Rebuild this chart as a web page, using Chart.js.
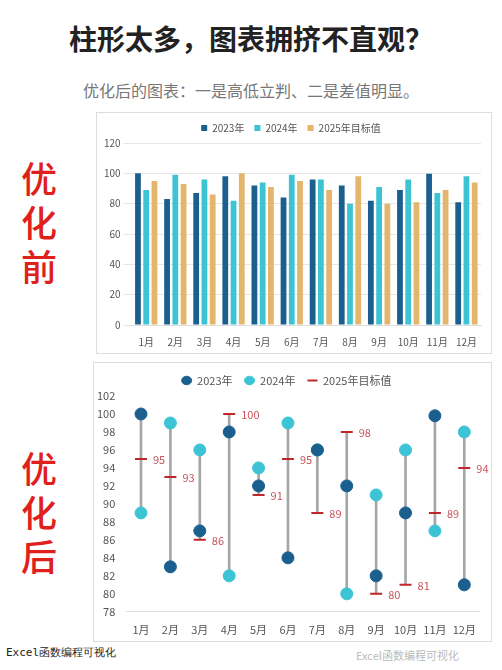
<!DOCTYPE html>
<html><head><meta charset="utf-8">
<script src="https://cdn.jsdelivr.net/npm/chart.js@4/dist/chart.umd.min.js"></script>
<style>
body{margin:0;width:502px;height:670px;background:#fff;font-family:"Noto Sans CJK SC",sans-serif;position:relative;overflow:hidden}
.t{position:absolute;left:0;width:502px;text-align:center}
.box{position:absolute;border:1px solid #ddd;background:#fff}
.side{position:absolute;color:#e0201b;font-size:36px;font-weight:500;line-height:44px;width:50px;text-align:center}
</style></head><body>
<div class="t" style="top:18px;font-size:28px;font-weight:bold;color:#222">柱形太多，图表拥挤不直观？</div>
<div class="t" style="top:78px;font-size:16px;color:#777">优化后的图表：一是高低立判、二是差值明显。</div>
<div class="side" style="left:14px;top:155px">优<br>化<br>前</div>
<div class="side" style="left:14px;top:445px">优<br>化<br>后</div>
<div class="box" style="left:96px;top:112px;width:394px;height:240px"><canvas id="c1"></canvas></div>
<div class="box" style="left:93px;top:362px;width:397px;height:278px"><canvas id="c2"></canvas></div>
<div style="position:absolute;left:6px;top:645px;font-size:11px;color:#222;font-family:'DejaVu Sans Mono'">Excel函数编程可视化</div>
<div style="position:absolute;left:356px;top:647px;font-size:11px;color:#bbb">Excel函数编程可视化</div>
<script>
const months=['1月','2月','3月','4月','5月','6月','7月','8月','9月','10月','11月','12月'];
const y2023=[100,83,87,98,92,84,96,92,82,89,99.8,81];
const y2024=[89,99,96,82,94,99,96,80,91,96,87,98];
const target=[95,93,86,100,91,95,89,98,80,81,89,94];
const topTicks=[0,20,40,60,80,100,120];
const C1='#1b5f8f',C2='#3cc4d4',C3='#e4b56c',RED='#c0262b';
Chart.defaults.font.family='"Noto Sans CJK SC",sans-serif';
Chart.defaults.color='#555';
new Chart(document.getElementById('c1'),{type:'bar',
data:{labels:months,datasets:[
{label:'2023年',data:y2023,backgroundColor:C1},
{label:'2024年',data:y2024,backgroundColor:C2},
{label:'2025年目标值',data:target,backgroundColor:C3}]},
options:{responsive:true,maintainAspectRatio:false,animation:false,
datasets:{bar:{barPercentage:0.7,categoryPercentage:0.85}},
layout:{padding:{left:4,right:10,bottom:2}},
plugins:{legend:{labels:{boxWidth:6,boxHeight:6,font:{size:10},padding:10}}},
scales:{x:{grid:{display:false},border:{color:'#ddd'},ticks:{font:{size:10}}},
y:{min:0,max:120,afterBuildTicks:a=>{a.ticks=topTicks.map(v=>({value:v}))},grid:{color:'#e6e6e6'},border:{display:false},ticks:{font:{size:10}}}}}});
const rangePlugin={id:'lbl',afterDatasetsDraw(ch){const m=ch.getDatasetMeta(3),ctx=ch.ctx;ctx.save();ctx.fillStyle='#c8545a';ctx.font='11px "Noto Sans CJK SC"';ctx.textBaseline='middle';
m.data.forEach((p,i)=>ctx.fillText(target[i],p.x+12,p.y+1));ctx.restore();}};
new Chart(document.getElementById('c2'),{type:'bar',
data:{labels:months,datasets:[
{type:'bar',label:'range',data:y2023.map((v,i)=>[Math.min(v,y2024[i],target[i]),Math.max(v,y2024[i],target[i])]),backgroundColor:'#a6a6a6',barThickness:2,order:5},
{type:'line',label:'2023年',data:y2023,showLine:false,pointRadius:6,pointBackgroundColor:C1,pointBorderColor:C1,backgroundColor:C1,order:1},
{type:'line',label:'2024年',data:y2024,showLine:false,pointRadius:6,pointBackgroundColor:C2,pointBorderColor:C2,backgroundColor:C2,order:1},
{type:'line',label:'2025年目标值',data:target,showLine:false,pointStyle:'line',pointRadius:6,pointBorderWidth:2,borderColor:RED,pointBorderColor:RED,order:0}]},
options:{responsive:true,maintainAspectRatio:false,animation:false,
layout:{padding:{left:0,right:12,bottom:2}},
plugins:{legend:{labels:{usePointStyle:true,pointStyleWidth:10,boxHeight:6,font:{size:11},padding:12,filter:l=>l.text!=='range',sort:(a,b)=>a.datasetIndex-b.datasetIndex}},tooltip:{enabled:false}},
scales:{x:{grid:{display:false},border:{color:'#ddd'},ticks:{font:{size:11}}},
y:{min:78,max:102,ticks:{stepSize:2,font:{size:11}},grid:{display:false},border:{display:false}}}},
plugins:[rangePlugin]});
</script></body></html>
